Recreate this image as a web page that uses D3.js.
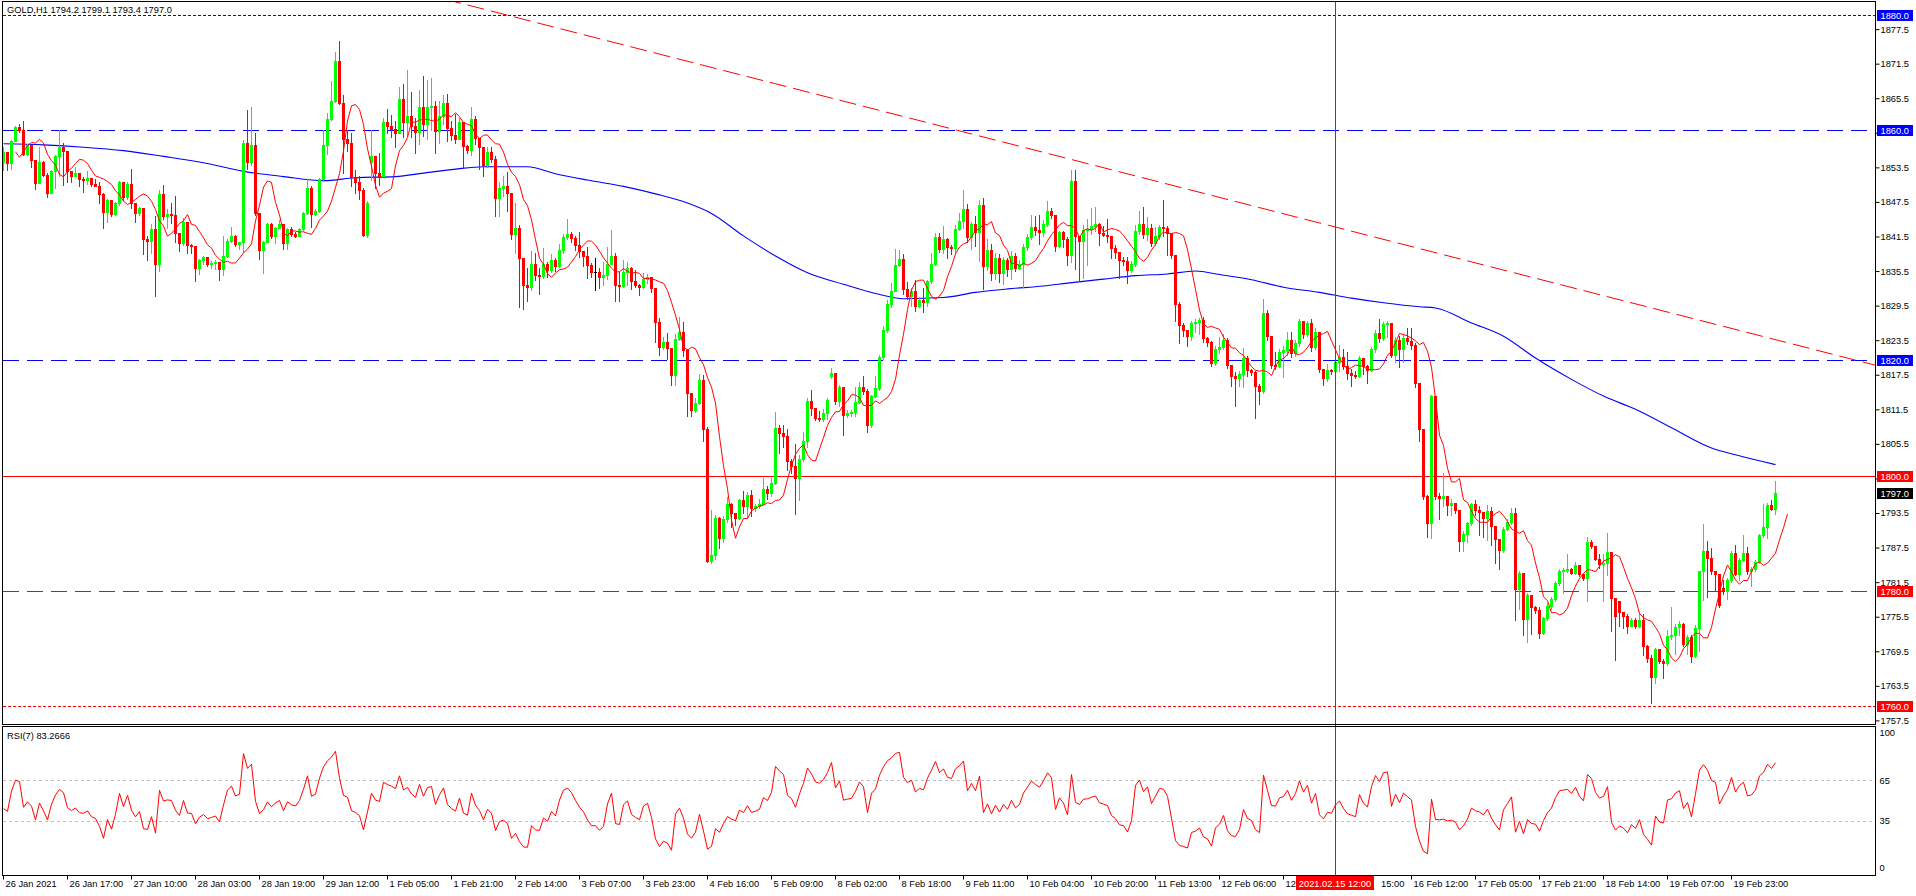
<!DOCTYPE html>
<html><head><meta charset="utf-8">
<script src="https://cdn.jsdelivr.net/npm/d3@7"></script>
<style>
html,body{margin:0;padding:0;background:#fff;overflow:hidden;}
svg{display:block;}
text{font-family:"Liberation Sans",Arial,sans-serif;font-size:9.3px;fill:#000;}
</style></head><body>
<svg id="c" width="1916" height="896"></svg>
<script>
// ---------------- DATA ----------------
const symbolTitle = "GOLD,H1  1794.2 1799.1 1793.4 1797.0";
const rsiTitle = "RSI(7) 83.2666";
const firstOpen = 1854.5;
// bars whose open differs from the previous close (session gaps)
const gapBars = [92, 207, 404, 430];
const gapOpenValues = [1854.4, 1817.2, 1778.2, 1780.5];

const closes = [
1856.2,1854.3,1858.0,1860.5,1860.0,1855.9,1857.4,1854.8,1850.7,1854.5,
1852.2,1849.1,1852.8,1855.4,1857.1,1856.4,1852.8,1852.0,1852.5,1851.4,
1851.3,1851.6,1850.6,1850.3,1848.9,1845.8,1847.8,1845.4,1847.3,1850.9,
1848.3,1850.6,1847.3,1845.5,1846.4,1841.1,1840.8,1842.8,1836.7,1848.9,
1845.0,1845.4,1845.2,1842.1,1840.3,1844.1,1840.0,1839.9,1836.0,1837.4,
1837.9,1836.7,1836.9,1837.1,1835.8,1838.1,1840.8,1841.6,1840.2,1840.5,
1857.8,1854.5,1857.4,1845.5,1839.1,1840.6,1843.7,1841.6,1842.9,1843.7,
1840.3,1842.8,1841.9,1841.6,1842.8,1845.5,1849.9,1845.4,1846.0,1851.4,
1857.4,1861.9,1865.1,1871.9,1864.7,1858.4,1857.7,1851.9,1851.0,1849.6,
1841.7,1847.4,1855.5,1852.5,1852.0,1861.4,1860.6,1860.1,1859.4,1865.3,
1861.3,1862.4,1860.6,1859.7,1864.0,1861.0,1863.9,1864.2,1859.8,1862.5,
1864.6,1860.3,1859.1,1858.4,1861.3,1857.2,1856.6,1861.9,1858.6,1857.0,
1853.9,1856.2,1855.0,1848.1,1850.0,1850.3,1849.1,1842.0,1842.9,1837.7,
1833.1,1832.8,1836.8,1834.8,1834.6,1836.8,1835.7,1837.4,1836.3,1839.2,
1841.4,1841.9,1841.2,1840.0,1838.9,1838.1,1836.6,1835.4,1835.4,1834.5,
1834.8,1836.8,1838.1,1833.1,1832.9,1835.4,1836.0,1833.7,1833.1,1832.7,
1834.2,1834.5,1832.5,1826.7,1822.4,1823.1,1822.1,1817.5,1823.7,1825.0,
1821.8,1814.3,1811.4,1812.6,1816.6,1808.0,1785.2,1786.2,1792.6,1789.2,
1792.4,1795.0,1793.5,1792.6,1795.8,1794.8,1796.7,1794.4,1794.7,1795.1,
1797.6,1797.0,1798.7,1808.3,1807.4,1806.8,1802.5,1801.7,1799.6,1802.8,
1806.0,1812.9,1811.7,1810.0,1809.8,1810.9,1813.2,1817.8,1812.9,1815.4,
1810.6,1810.9,1811.1,1812.8,1815.4,1814.6,1808.7,1813.8,1815.2,1820.6,
1825.2,1829.7,1832.0,1836.5,1837.6,1832.4,1831.1,1832.0,1829.4,1830.5,
1830.2,1833.7,1836.8,1841.4,1839.4,1841.1,1839.7,1839.5,1842.8,1844.2,
1846.3,1841.4,1843.6,1842.2,1846.9,1836.4,1839.2,1835.2,1837.8,1835.2,
1837.4,1835.8,1838.2,1836.0,1836.8,1839.7,1841.4,1843.2,1842.6,1842.2,
1843.7,1845.9,1845.3,1839.8,1842.2,1841.1,1838.3,1851.1,1841.6,1840.8,
1842.7,1842.8,1843.3,1843.6,1842.1,1841.8,1841.5,1839.5,1838.8,1837.4,
1837.2,1835.7,1836.8,1842.4,1843.7,1842.0,1843.0,1840.3,1841.6,1843.1,
1843.0,1842.1,1838.3,1829.7,1826.2,1825.3,1824.2,1826.4,1826.6,1827.0,
1823.9,1823.1,1819.5,1821.9,1822.4,1823.6,1819.2,1817.2,1816.9,1817.7,
1820.4,1818.4,1817.9,1815.5,1814.6,1828.2,1824.2,1819.2,1819.0,1821.4,
1821.8,1823.6,1821.3,1823.0,1826.8,1824.5,1826.5,1822.4,1825.0,1818.5,
1816.9,1818.4,1818.1,1819.8,1820.6,1819.0,1817.8,1817.5,1817.2,1820.4,
1819.0,1818.4,1821.9,1824.7,1823.9,1826.3,1826.5,1821.0,1823.6,1821.9,
1823.9,1823.3,1822.7,1816.1,1808.0,1796.4,1791.8,1813.8,1796.4,1796.1,
1796.4,1794.9,1795.2,1794.0,1788.7,1789.9,1791.8,1795.0,1794.0,1793.6,
1792.6,1793.8,1791.2,1789.0,1787.0,1790.7,1792.0,1793.5,1780.3,1783.1,
1775.1,1779.3,1777.1,1776.7,1772.7,1775.3,1777.3,1778.5,1781.3,1783.4,
1783.6,1783.8,1783.1,1784.4,1783.0,1782.3,1788.4,1787.8,1785.6,1784.6,
1784.9,1786.7,1778.8,1775.7,1776.4,1775.6,1773.9,1775.0,1773.9,1775.0,
1770.5,1768.3,1765.1,1769.9,1767.8,1767.5,1772.1,1772.4,1773.7,1774.2,
1770.8,1771.9,1768.6,1773.5,1783.4,1786.9,1785.7,1783.4,1783.0,1777.5,
1779.9,1781.9,1786.6,1783.0,1785.4,1786.6,1783.4,1783.7,1785.0,1789.6,
1791.0,1794.9,1794.2,1797.0];

const highs = [
1857.0,1855.6,1858.3,1860.7,1861.0,1861.6,1857.6,1857.4,1854.8,1857.1,
1854.6,1852.6,1853.1,1855.6,1860.0,1857.8,1856.4,1852.8,1853.6,1852.6,
1851.8,1852.8,1851.4,1851.5,1851.0,1849.0,1848.0,1847.8,1847.5,1851.2,
1851.0,1851.0,1853.2,1847.3,1846.6,1846.2,1841.5,1843.6,1845.0,1849.5,
1850.5,1846.3,1847.3,1848.5,1842.0,1844.7,1843.8,1840.2,1839.5,1837.6,
1838.2,1838.0,1837.2,1837.4,1837.0,1841.6,1841.0,1843.2,1841.8,1840.6,
1858.2,1863.5,1864.0,1859.5,1845.5,1840.8,1843.9,1843.8,1843.2,1844.4,
1843.7,1843.0,1843.2,1842.3,1843.0,1845.7,1851.5,1850.2,1846.3,1851.7,
1859.9,1863.0,1868.5,1873.6,1875.5,1866.0,1859.9,1859.4,1853.1,1852.0,
1850.0,1847.6,1860.0,1855.0,1856.0,1862.0,1863.7,1862.6,1861.5,1867.5,
1868.0,1870.4,1866.5,1862.0,1867.0,1869.3,1868.7,1869.0,1865.0,1865.0,
1866.0,1866.3,1861.5,1862.7,1862.0,1860.0,1857.3,1863.9,1862.5,1858.6,
1856.5,1857.0,1857.0,1855.5,1851.0,1852.0,1852.7,1849.1,1847.4,1843.5,
1837.7,1836.0,1839.0,1838.7,1836.0,1839.5,1837.0,1838.5,1837.8,1840.2,
1842.0,1844.6,1842.2,1841.5,1842.3,1839.0,1839.6,1836.9,1837.8,1836.0,
1837.0,1839.6,1842.7,1838.6,1835.3,1837.5,1837.0,1836.2,1835.6,1833.2,
1835.2,1835.0,1834.5,1832.5,1827.3,1824.0,1824.7,1822.0,1824.5,1827.6,
1826.6,1822.0,1814.3,1813.5,1817.6,1817.4,1808.5,1794.0,1793.2,1792.8,
1793.0,1796.3,1795.2,1793.5,1796.0,1797.3,1797.2,1797.5,1795.0,1796.0,
1799.5,1798.2,1799.5,1811.0,1808.8,1808.7,1808.0,1802.8,1805.5,1803.5,
1807.5,1813.5,1814.9,1811.7,1811.2,1811.5,1813.5,1818.6,1817.8,1815.8,
1815.2,1811.4,1811.3,1815.3,1816.2,1817.2,1815.0,1814.0,1817.2,1821.0,
1826.0,1830.5,1833.5,1839.4,1839.1,1838.5,1833.6,1832.5,1834.0,1831.0,
1832.6,1834.0,1838.6,1842.1,1842.1,1843.3,1841.2,1840.0,1843.5,1845.5,
1849.6,1847.1,1844.0,1845.0,1847.9,1848.1,1841.0,1840.2,1838.6,1838.4,
1838.0,1837.7,1839.0,1838.7,1837.5,1840.2,1842.0,1845.2,1845.0,1845.3,
1844.3,1847.6,1846.5,1845.3,1842.5,1842.5,1841.4,1853.1,1853.0,1841.6,
1843.5,1844.5,1846.5,1846.7,1843.5,1843.3,1844.5,1841.5,1840.0,1838.8,
1838.0,1838.0,1837.2,1843.5,1846.0,1846.7,1844.8,1843.6,1843.2,1843.5,
1847.8,1843.3,1842.0,1838.3,1830.1,1826.5,1825.3,1826.9,1827.2,1827.3,
1827.5,1824.0,1823.4,1822.5,1824.0,1824.5,1823.8,1818.7,1818.0,1818.2,
1822.2,1820.7,1818.5,1818.2,1815.9,1830.6,1828.8,1824.2,1821.5,1822.0,
1822.5,1825.0,1824.9,1823.5,1827.1,1826.9,1826.9,1827.1,1825.6,1825.0,
1818.5,1819.3,1818.5,1820.6,1822.6,1822.0,1821.5,1818.5,1818.2,1820.8,
1820.3,1819.2,1822.3,1825.2,1827.1,1826.6,1826.8,1826.2,1824.0,1824.3,
1824.5,1825.6,1825.7,1823.0,1816.1,1808.0,1796.7,1814.0,1813.8,1796.9,
1800.5,1796.2,1795.9,1795.2,1790.7,1790.4,1792.0,1795.3,1795.8,1794.7,
1793.6,1794.9,1794.6,1791.2,1789.0,1791.0,1792.4,1794.3,1794.4,1783.5,
1783.0,1779.6,1779.3,1777.3,1777.2,1775.5,1777.8,1779.0,1781.7,1783.7,
1784.0,1786.4,1784.0,1785.0,1784.5,1783.0,1789.3,1788.9,1787.8,1786.3,
1786.3,1790.1,1786.7,1778.8,1778.2,1776.4,1775.9,1775.3,1775.2,1776.1,
1776.0,1770.6,1768.9,1770.0,1769.9,1768.2,1773.2,1777.2,1774.2,1774.8,
1774.4,1772.3,1772.3,1774.0,1783.5,1791.6,1788.6,1787.4,1783.4,1783.0,
1781.9,1782.2,1786.9,1788.0,1785.7,1789.7,1787.6,1784.1,1785.4,1789.9,
1795.0,1795.2,1795.8,1799.1];

const lows = [
1853.0,1853.0,1853.2,1858.0,1859.7,1855.6,1855.6,1853.6,1849.8,1851.0,
1852.0,1848.4,1849.2,1850.0,1852.0,1850.4,1851.0,1851.0,1852.0,1850.2,
1849.3,1850.6,1850.2,1850.2,1847.4,1842.9,1844.0,1845.0,1845.2,1847.0,
1847.8,1848.0,1846.5,1844.0,1845.3,1838.4,1837.4,1838.7,1831.1,1835.5,
1844.5,1843.0,1843.8,1840.5,1839.0,1840.0,1838.7,1838.6,1833.7,1835.0,
1836.8,1836.4,1836.1,1835.8,1834.0,1834.8,1838.0,1840.6,1839.8,1839.3,
1838.8,1853.3,1853.9,1845.2,1837.6,1835.1,1840.5,1841.3,1840.3,1842.9,
1839.4,1839.4,1841.6,1841.4,1841.5,1842.6,1845.4,1843.2,1845.2,1845.8,
1851.2,1855.8,1861.7,1864.8,1864.5,1852.5,1856.4,1850.2,1849.0,1848.0,
1841.5,1841.4,1851.3,1850.0,1850.5,1852.2,1859.5,1858.8,1857.0,1859.7,
1858.8,1859.0,1858.8,1856.0,1857.5,1859.0,1858.4,1860.0,1856.0,1857.7,
1861.0,1858.0,1858.2,1857.8,1858.5,1853.4,1856.0,1855.7,1857.5,1853.2,
1852.0,1853.5,1854.5,1845.0,1845.0,1848.5,1846.0,1841.0,1838.6,1829.3,
1829.0,1830.3,1832.2,1834.0,1831.6,1834.3,1834.5,1835.3,1835.5,1836.2,
1838.6,1841.0,1840.5,1839.1,1838.0,1836.4,1834.3,1834.5,1832.2,1832.5,
1833.0,1834.2,1836.8,1830.3,1830.3,1832.8,1833.0,1832.4,1832.8,1831.4,
1832.6,1833.4,1831.8,1823.2,1821.0,1822.0,1820.3,1815.8,1815.8,1823.5,
1820.7,1810.3,1810.3,1811.0,1812.5,1806.0,1785.0,1784.8,1785.5,1787.4,
1788.5,1792.0,1791.0,1791.5,1792.4,1793.5,1792.8,1793.0,1793.8,1794.3,
1795.0,1796.0,1796.5,1798.5,1804.0,1805.0,1801.0,1800.5,1793.3,1795.8,
1802.5,1805.0,1810.6,1809.6,1809.4,1809.5,1809.8,1817.0,1812.5,1812.0,
1807.1,1810.1,1810.3,1810.3,1812.6,1814.2,1807.5,1808.5,1813.6,1814.8,
1820.3,1825.0,1829.3,1832.0,1836.3,1831.6,1830.6,1829.5,1828.6,1829.2,
1828.4,1829.4,1833.5,1836.6,1838.8,1838.6,1837.8,1838.5,1838.8,1842.6,
1843.0,1840.5,1839.4,1839.8,1837.2,1832.4,1835.6,1834.0,1834.2,1833.6,
1833.3,1834.6,1834.2,1835.5,1835.8,1832.8,1839.2,1841.0,1841.8,1840.2,
1841.5,1843.4,1844.7,1839.0,1839.6,1839.7,1836.5,1837.0,1835.8,1833.7,
1834.3,1836.6,1842.0,1842.4,1840.0,1841.6,1840.5,1837.7,1837.7,1834.3,
1836.5,1833.5,1835.3,1836.4,1842.0,1841.2,1840.9,1839.8,1840.0,1841.0,
1841.5,1838.3,1837.8,1826.8,1823.0,1824.3,1822.5,1823.6,1825.0,1824.5,
1823.2,1822.5,1819.0,1819.2,1821.2,1822.0,1818.6,1815.5,1812.1,1815.5,
1815.4,1817.2,1817.4,1810.0,1812.4,1814.4,1823.5,1818.6,1818.5,1818.8,
1817.1,1821.0,1820.5,1820.8,1822.5,1823.8,1824.3,1821.6,1822.0,1818.0,
1815.8,1816.5,1817.6,1816.2,1818.2,1818.5,1816.7,1815.5,1817.0,1817.1,
1817.7,1816.0,1818.2,1821.5,1823.2,1823.5,1824.0,1820.5,1819.8,1818.8,
1819.8,1822.8,1822.0,1815.4,1806.0,1796.0,1789.4,1789.2,1796.0,1792.5,
1794.7,1793.1,1793.2,1793.5,1786.9,1786.9,1788.5,1791.5,1793.1,1789.6,
1789.4,1788.9,1787.9,1784.8,1783.7,1786.8,1790.5,1791.6,1775.0,1776.8,
1772.4,1771.1,1772.5,1776.2,1771.8,1772.5,1775.0,1776.8,1778.3,1781.0,
1779.6,1783.2,1782.9,1783.0,1782.6,1781.8,1778.2,1787.5,1785.3,1784.0,
1778.2,1782.7,1773.0,1767.9,1773.9,1773.6,1772.7,1773.9,1773.6,1773.8,
1768.8,1767.6,1760.5,1764.0,1767.5,1764.8,1767.2,1771.6,1769.1,1772.3,
1770.5,1769.1,1767.7,1768.5,1769.5,1778.4,1779.0,1783.0,1780.2,1777.2,
1779.5,1778.5,1781.5,1782.8,1781.9,1785.2,1783.0,1780.9,1783.5,1784.8,
1789.4,1789.2,1794.0,1793.4];

// slow moving average (blue) at these bars
const slowMaBars = [0,10,20,30,40,50,60,70,80,88,98,105,113,120,131,138,146,155,163,171,177,185,193,201,210,218,225,235,243,251,260,266,275,283,291,298,304,312,320,329,337,345,354,358,367,375,383,392,400,408,417,427,433,443];
const slowMaValues = [1857.6,1857.4,1857.0,1856.4,1855.4,1854.3,1852.8,1851.9,1851.2,1851.7,1851.9,1852.5,1853.2,1853.6,1853.6,1852.4,1851.3,1850.2,1848.9,1847.3,1845.5,1841.6,1838.1,1835.2,1833.2,1831.6,1830.7,1830.9,1831.8,1832.4,1832.9,1833.4,1834.1,1834.7,1835.0,1835.5,1834.9,1834.0,1832.7,1831.8,1830.8,1830.0,1829.3,1829.1,1826.5,1824.2,1820.4,1816.7,1813.8,1811.5,1808.3,1804.8,1803.6,1801.9];

// RSI values of the first bars (their history lies left of the chart)
const rsiLeadValues = [44, 42, 57, 65, 64, 45, 49];

const fastMaPeriod = 5, fastMaShift = 3, rsiPeriod = 7;

const priceTicks = [1877.5,1871.5,1865.5,1859.5,1853.5,1847.5,1841.5,1835.5,1829.5,1823.5,1817.5,1811.5,1805.5,1799.5,1793.5,1787.5,1781.5,1775.5,1769.5,1763.5,1757.5];
const rsiTicks = [100,65,35,0];
const rsiLevels = [65,35];
const timeLabels = ["26 Jan 2021","26 Jan 17:00","27 Jan 10:00","28 Jan 03:00","28 Jan 19:00","29 Jan 12:00","1 Feb 05:00","1 Feb 21:00","2 Feb 14:00","3 Feb 07:00","3 Feb 23:00","4 Feb 16:00","5 Feb 09:00","8 Feb 02:00","8 Feb 18:00","9 Feb 11:00","10 Feb 04:00","10 Feb 20:00","11 Feb 13:00","12 Feb 06:00","12 Feb 22:00","15 Feb 15:00","16 Feb 12:00","17 Feb 05:00","17 Feb 21:00","18 Feb 14:00","19 Feb 07:00","19 Feb 23:00"];
const timeLabelStep = 16;

const levelPrices = [1880, 1860, 1820, 1800, 1780, 1760];
const levelLabels = ["1880.0","1860.0","1820.0","1800.0","1780.0","1760.0"];
const lastPrice = 1797.0, lastPriceLabel = "1797.0";
const trendBars = [113.25, 443.8];
const trendPrices = [1882.2, 1823.47];
const cursorBar = 333, cursorLabel = "2021.02.15 12:00";

// ---------------- STYLE / LAYOUT ----------------
const BULL = "#00ff00", BEAR = "#ff0000", DOJI = "#000000";
const levelStyle = [
  {color:"#0000ff", dash:"3,2"},
  {color:"#0000ff", dash:"16,8"},
  {color:"#0000ff", dash:"16,8"},
  {color:"#ff0000", dash:null},
  {color:"#ff0000", dash:"16,8"},
  {color:"#ff0000", dash:"3,2"}
];
const L = 2.5, R = 1875.5, MT = 1.5, MB = 724.5, RT = 726.5, RB = 875.5;

const svg = d3.select("#c");
const x = d3.scaleLinear().domain([0, 468]).range([3, 3 + 468 * 4]);
const y = d3.scaleLinear().domain([1880, 1760]).range([14.7, 706.0]);
const yr = d3.scaleLinear().domain([100, 0]).range([733, 868]);
const px = v => Math.round(v);

const defs = svg.append("defs");
defs.append("clipPath").attr("id","clipMain").append("rect").attr("x",L).attr("y",MT).attr("width",R-L).attr("height",MB-MT);
defs.append("clipPath").attr("id","clipRsi").append("rect").attr("x",L).attr("y",RT).attr("width",R-L).attr("height",RB-RT);

// bars
const gapMap = new Map(gapBars.map((b,k)=>[b, gapOpenValues[k]]));
const bars = closes.map((c,i)=>{
  const o = i===0 ? firstOpen : (gapMap.has(i) ? gapMap.get(i) : closes[i-1]);
  return {i, o, c, h: Math.max(highs[i], o, c), l: Math.min(lows[i], o, c)};
});

const main = svg.append("g").attr("clip-path","url(#clipMain)");
const rsiG = svg.append("g").attr("clip-path","url(#clipRsi)");

// levels
levelPrices.forEach((p,k)=>{
  const yy = px(y(p)) + 0.5;
  const ln = main.append("line").attr("x1",L).attr("x2",R).attr("y1",yy).attr("y2",yy)
    .attr("stroke",levelStyle[k].color).attr("stroke-width",1).attr("shape-rendering","crispEdges");
  if (levelStyle[k].dash) ln.attr("stroke-dasharray",levelStyle[k].dash);
});

// trend line (ray to right edge)
{
  const x1 = x(trendBars[0]), y1 = y(trendPrices[0]);
  const x2 = x(trendBars[1]), y2 = y(trendPrices[1]);
  const s = (y2-y1)/(x2-x1);
  const xs = L, xe = R;
  main.append("line").attr("x1",xs).attr("y1",y1 + (xs-x1)*s).attr("x2",xe).attr("y2",y1 + (xe-x1)*s)
    .attr("stroke","#ff0000").attr("stroke-width",1).attr("stroke-dasharray","17,7");
}

// slow MA
main.append("path").datum(slowMaBars.map((b,k)=>[b, slowMaValues[k]]))
  .attr("fill","none").attr("stroke","#0000ff").attr("stroke-width",1.1)
  .attr("d", d3.line().x(d=>x(d[0])+0.5).y(d=>y(d[1])).curve(d3.curveMonotoneX));

// candles
const cg = main.append("g").attr("shape-rendering","crispEdges");
bars.forEach(b=>{
  const col = b.c > b.o ? BULL : (b.c < b.o ? BEAR : DOJI);
  const cx = px(x(b.i));
  const yh = px(y(b.h)), yl = px(y(b.l));
  cg.append("rect").attr("x",cx).attr("y",yh).attr("width",1).attr("height",Math.max(1,yl-yh+1)).attr("fill",col);
  const yt = px(y(Math.max(b.o,b.c))), yb = px(y(Math.min(b.o,b.c)));
  cg.append("rect").attr("x",cx-1).attr("y",yt).attr("width",3).attr("height",Math.max(1,yb-yt+1)).attr("fill",col);
});

// fast MA (SMA 5, shifted 3 bars)
const fast = closes.map((c,i)=>{
  const from = Math.max(0, i-fastMaPeriod+1);
  return [i+fastMaShift, d3.mean(closes.slice(from, i+1))];
});
main.append("path").datum(fast).attr("fill","none").attr("stroke","#ff0000").attr("stroke-width",1)
  .attr("d", d3.line().x(d=>x(d[0])+0.5).y(d=>y(d[1])));

// RSI (Wilder, period 7) – lead bars use the values
const rsi = rsiLeadValues.map((v,i)=>[i, v]);
let ag = 0, al = 0;
for (let i=1;i<closes.length;i++){
  const d = closes[i]-closes[i-1];
  const g = Math.max(d,0), l = Math.max(-d,0);
  if (i <= rsiPeriod){ ag = (ag*(i-1)+g)/i; al = (al*(i-1)+l)/i; }
  else { ag = (ag*(rsiPeriod-1)+g)/rsiPeriod; al = (al*(rsiPeriod-1)+l)/rsiPeriod; }
  if (i >= rsiLeadValues.length) rsi.push([i, al===0 ? 100 : 100 - 100/(1+ag/al)]);
}
rsiLevels.forEach(v=>{
  const yy = px(yr(v))+0.5;
  rsiG.append("line").attr("x1",L).attr("x2",R).attr("y1",yy).attr("y2",yy)
    .attr("stroke","#c0c0c0").attr("stroke-dasharray","3,3").attr("shape-rendering","crispEdges");
});
rsiG.append("path").datum(rsi).attr("fill","none").attr("stroke","#ff0000").attr("stroke-width",1)
  .attr("d", d3.line().x(d=>x(d[0])+0.5).y(d=>yr(d[1])));

// cursor line
svg.append("line").attr("x1",px(x(cursorBar))+0.5).attr("x2",px(x(cursorBar))+0.5).attr("y1",MT).attr("y2",RB)
  .attr("stroke","#ff0000").attr("shape-rendering","crispEdges");

// axes
const font = g => g.selectAll("text").style("font-family",'"Liberation Sans",Arial,sans-serif').style("font-size","9.3px");
const ya = svg.append("g").attr("transform",`translate(${R},0)`)
  .call(d3.axisRight(y).tickValues(priceTicks).tickSize(4).tickPadding(1).tickFormat(d3.format(".1f")));
ya.select(".domain").remove(); ya.call(font);
const ra = svg.append("g").attr("transform",`translate(${R},0)`)
  .call(d3.axisRight(yr).tickValues(rsiTicks).tickSize(0).tickPadding(4));
ra.select(".domain").remove(); ra.call(font);
const xa = svg.append("g").attr("transform",`translate(0,${RB})`)
  .call(d3.axisBottom(x).tickValues(timeLabels.map((t,k)=>k*timeLabelStep)).tickSize(4).tickPadding(1)
    .tickFormat((d,k)=>timeLabels[k]));
xa.select(".domain").remove(); xa.call(font);
xa.selectAll(".tick text").attr("text-anchor","start").attr("x",2);

// cursor time label box (covers the axis labels under it, as in the terminal)
const cursorX = px(x(cursorBar));
const boxX0 = cursorX - 39, boxX1 = cursorX + 39;
xa.selectAll(".tick").each(function(d){
  const tx = x(d);
  const t = d3.select(this).select("text");
  const w = this.querySelector("text").getComputedTextLength();
  const start = tx + 2, end = start + w;
  if (start < boxX0 && end > boxX0 - 1) {
    // only the part left of the box stays visible
    t.text(t.text().split(" ")[0]);
  } else if (start >= boxX0 && start <= boxX1 && end > boxX1) {
    const parts = t.text().split(" ");
    const tail = parts[parts.length-1];
    t.text(tail).attr("text-anchor","end").attr("x", end - tx);
  }
});

// level labels on price axis
levelPrices.forEach((p,k)=>{
  const yy = px(y(p));
  svg.append("rect").attr("x",1877).attr("y",yy-5).attr("width",36).attr("height",11).attr("fill",levelStyle[k].color);
  svg.append("text").attr("x",1880.5).attr("y",yy+3.5).style("fill","#fff").text(levelLabels[k]);
});
{
  const yy = px(y(lastPrice));
  svg.append("rect").attr("x",1877).attr("y",yy-5).attr("width",36).attr("height",11).attr("fill","#000");
  svg.append("text").attr("x",1880.5).attr("y",yy+3.5).style("fill","#fff").text(lastPriceLabel);
}
svg.append("rect").attr("x",boxX0).attr("y",876).attr("width",boxX1-boxX0).attr("height",14).attr("fill","#ff0000");
svg.append("text").attr("x",cursorX).attr("y",887).attr("text-anchor","middle").style("fill","#fff").text(cursorLabel);

// frames
svg.append("rect").attr("x",L).attr("y",MT).attr("width",R-L).attr("height",MB-MT).attr("fill","none").attr("stroke","#000").attr("shape-rendering","crispEdges");
svg.append("rect").attr("x",L).attr("y",RT).attr("width",R-L).attr("height",RB-RT).attr("fill","none").attr("stroke","#000").attr("shape-rendering","crispEdges");

// titles
svg.append("text").attr("x",7).attr("y",13).text(symbolTitle);
svg.append("text").attr("x",7).attr("y",739).text(rsiTitle);
</script>
</body></html>
